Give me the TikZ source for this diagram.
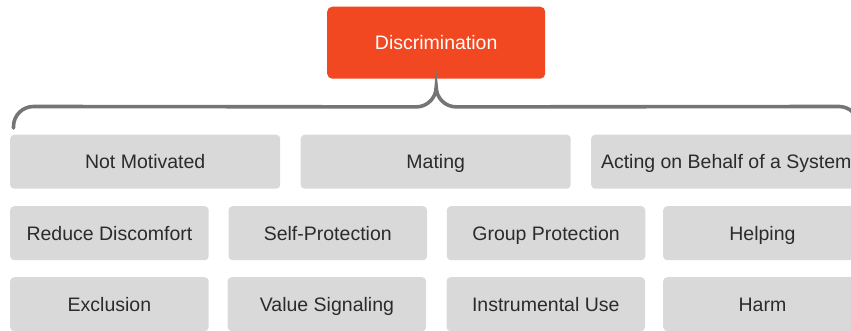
\documentclass[tikz,border=0pt]{standalone}
\usepackage{fontspec}
\setmainfont{Liberation Sans}
\usetikzlibrary{calc}
\definecolor{discred}{HTML}{F24822}
\definecolor{cellgray}{HTML}{D9D9D9}
\definecolor{labelink}{HTML}{2B2B2B}
\definecolor{bracegray}{HTML}{757575}
\begin{document}
\begin{tikzpicture}[x=1pt,y=1pt,
  cell/.style={rectangle, rounded corners=4pt, fill=cellgray, inner sep=0pt,
    minimum height=54pt, anchor=north west, text=labelink,
    text height=18pt, text depth=4pt,
    font=\fontsize{19.5}{23}\selectfont},
  widecell/.style={cell, minimum width=270pt},
  narrowcell/.style={cell, minimum width=198.5pt},
  rootbox/.style={rectangle, rounded corners=5pt, fill=discred, inner sep=0pt,
    minimum width=218pt, minimum height=72pt, anchor=north west, text=white,
    text height=18pt, text depth=4pt,
    font=\fontsize{19.5}{23}\selectfont},
  bracket/.style={draw=bracegray, line width=3.6pt, line cap=round}]
\useasboundingbox (0,0) rectangle (851,-331);
\clip (0,0) rectangle (851,-331);

% root
\node[rootbox] (disc) at (327,-6.5) {Discrimination};

% first row
\node[widecell] (notmot) at (10,-134.5) {Not Motivated};
\node[widecell] (mating) at (300.5,-134.5) {Mating};
\node[widecell] (system) at (591,-134.5) {Acting on Behalf of a System};

% second row
\node[narrowcell] (discomfort) at (10,-206) {Reduce Discomfort};
\node[narrowcell] (selfprot) at (228.3,-206) {Self-Protection};
\node[narrowcell] (groupprot) at (446.6,-206) {Group Protection};
\node[narrowcell] (helping) at (663,-206) {Helping};

% third row
\node[narrowcell] (exclusion) at (10,-277) {Exclusion};
\node[narrowcell] (valuesig) at (227.5,-277) {Value Signaling};
\node[narrowcell] (instrum) at (446.3,-277) {Instrumental Use};
\node[narrowcell] (harm) at (663,-277) {Harm};

% curly bracket under the root, spanning the first row
\coordinate (tip) at ($(disc.south)+(0,-8)$);
\coordinate (bl) at ($(notmot.north west)+(3.5,6.5)$);
\coordinate (mirror) at ($2*(tip)-(bl)$);
\coordinate (br) at (bl -| mirror);
\draw[bracket]
  (bl) -- ++(0,1.5) arc[start angle=180, end angle=90, radius=20]
  -- ($(tip)+(-20,-20)$) arc[start angle=-90, end angle=0, radius=20]
  arc[start angle=180, end angle=270, radius=20]
  -- ($(br)+(-20,21.5)$) arc[start angle=90, end angle=0, radius=20]
  -- (br);
\end{tikzpicture}
\end{document}
